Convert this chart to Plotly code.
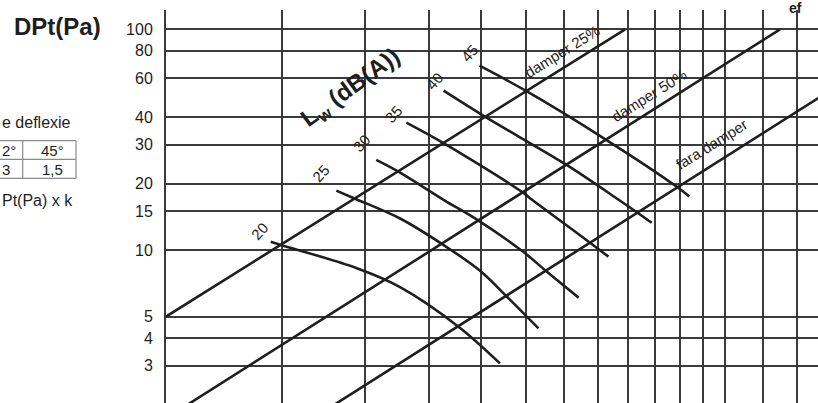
import plotly.graph_objects as go

# ---------------- data ----------------
# Lw (dB(A)) curves: airflow (x) vs total pressure drop DPt (Pa)
lw20_q = [144, 150, 194, 226, 277, 320]
lw20_dp = [10.9, 10.5, 8.3, 6.8, 4.5, 3.07]
lw25_q = [181, 194, 226, 261, 298, 328, 366]
lw25_dp = [18.6, 17.0, 13.9, 10.7, 8.1, 6.15, 4.42]
lw30_q = [208, 225, 263, 297, 347, 377, 421]
lw30_dp = [25.6, 22.6, 16.9, 13.6, 9.83, 7.98, 6.09]
lw35_q = [231, 263, 347, 358, 438, 467]
lw35_dp = [37.8, 30.5, 18.2, 16.9, 10.8, 9.34]
lw40_q = [263, 305, 402, 484, 543]
lw40_dp = [52.7, 39.9, 24.5, 16.9, 13.3]
lw45_q = [298, 350, 464, 592, 619]
lw45_dp = [68.4, 52.7, 31.5, 19.4, 17.5]

# damper characteristic lines
damper25_q = [100, 495]
damper25_dp = [5, 100]
damper50_q = [100, 849]
damper50_dp = [1.73, 100]
fara_q = [180, 1000]
fara_dp = [2.0, 51.7]

x_grid = [100, 150, 200, 250, 300, 350, 400, 450, 500, 550, 600, 650, 700, 800, 900]
y_ticks = [2, 3, 4, 5, 10, 15, 20, 30, 40, 60, 80, 100]
y_labels = ["2", "3", "4", "5", "10", "15", "20", "30", "40", "60", "80", "100"]

# ---------------- figure ----------------
W, H = 818, 403
ML, MT, MB, MR = 166, 10, 0, 0
PW, PH = W - ML - MR, H - MT - MB

FONT = "Liberation Sans, Arial, sans-serif"
CURVE = "#1e1e1e"
GRID = "#3a3a3a"

fig = go.Figure()

for q, dp in [(lw20_q, lw20_dp), (lw25_q, lw25_dp), (lw30_q, lw30_dp),
              (lw35_q, lw35_dp), (lw40_q, lw40_dp), (lw45_q, lw45_dp)]:
    fig.add_trace(go.Scatter(x=q, y=dp, mode="lines",
                             line=dict(color=CURVE, width=2.6, shape="spline", smoothing=1.0),
                             hoverinfo="skip", showlegend=False))

for q, dp in [(damper25_q, damper25_dp), (damper50_q, damper50_dp), (fara_q, fara_dp)]:
    fig.add_trace(go.Scatter(x=q, y=dp, mode="lines",
                             line=dict(color=CURVE, width=2.6),
                             hoverinfo="skip", showlegend=False))


def P(px, py):
    return (px - ML) / PW, (H - MB - py) / PH


annots = []


def label(text, px, py, size=16, angle=0, bold=False, xanchor="center", color="#1e1e1e"):
    x, y = P(px, py)
    annots.append(dict(text=("<b>%s</b>" % text) if bold else text, x=x, y=y,
                       xref="paper", yref="paper", showarrow=False,
                       xanchor=xanchor, yanchor="middle", textangle=angle,
                       font=dict(family=FONT, size=size, color=color)))


# damper labels
label("damper 25%", 562, 52, size=15, angle=-32)
label("damper 50%", 649, 96, size=15, angle=-32)
label("fara damper", 711, 144, size=15, angle=-32)

# Lw level labels
for t, px, py in [("20", 259, 231), ("25", 321, 174), ("30", 361, 143),
                  ("35", 393, 114), ("40", 434, 81), ("45", 469, 53)]:
    label(t, px, py, size=15, angle=-48)

label("L<sub>w</sub> (dB(A))", 351, 88, size=24, angle=-36, bold=True)

# left side texts
label("DPt(Pa)", 57, 26, size=24, bold=True)
label("e deflexie", 0, 122, size=16, xanchor="left")
label("2°", 0, 150, size=15, xanchor="left")
label("45°", 52, 150, size=15)
label("3", 0, 169, size=15, xanchor="left")
label("1,5", 52.5, 169, size=15)
label("Pt(Pa) x k", 0, 200, size=16, xanchor="left")
label("ef", 795, 8, size=14, bold=True)

shapes = []
TB = "#8a8a8a"
for py in [140.7, 159.3, 178.3]:
    x0, y0 = P(-5, py)
    x1, _ = P(76, py)
    shapes.append(dict(type="line", xref="paper", yref="paper", x0=x0, x1=x1, y0=y0, y1=y0,
                       line=dict(color=TB, width=1.2)))
for px in [22.7, 76]:
    x0, y0 = P(px, 140.7)
    _, y1 = P(px, 178.3)
    shapes.append(dict(type="line", xref="paper", yref="paper", x0=x0, x1=x0, y0=y0, y1=y1,
                       line=dict(color=TB, width=1.2)))

fig.update_layout(
    width=W, height=H,
    margin=dict(l=ML, r=MR, t=MT, b=MB, pad=0),
    paper_bgcolor="white", plot_bgcolor="white",
    showlegend=False,
    hovermode=False,
    annotations=annots,
    shapes=shapes,
    xaxis=dict(type="log", range=[2, 2 + (W - ML) / 661.0],
               tickmode="array", tickvals=x_grid, showticklabels=False,
               showgrid=True, gridcolor=GRID, gridwidth=2,
               zeroline=False, showline=False, ticks=""),
    yaxis=dict(type="log", range=[(470.9 - (H - MB)) / 220.8, (470.9 - MT) / 220.8],
               tickmode="array", tickvals=y_ticks, ticktext=y_labels,
               showgrid=True, gridcolor=GRID, gridwidth=2,
               showline=True, linecolor=GRID, linewidth=2,
               zeroline=False, ticks="", ticklabelstandoff=8,
               tickfont=dict(family=FONT, size=16, color="#1e1e1e")),
)

fig.write_html("out.html",
               config={"displayModeBar": False, "staticPlot": True},
               post_script="document.body.style.margin='0px';document.body.style.padding='0px';")
